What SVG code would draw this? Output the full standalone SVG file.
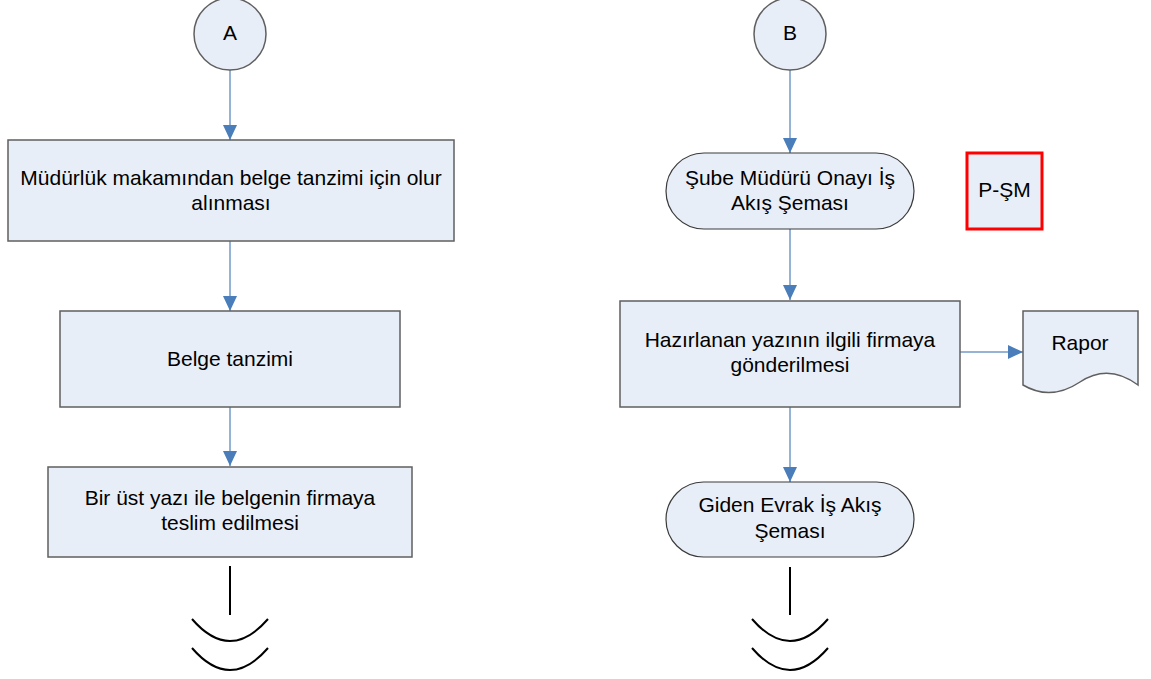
<svg xmlns="http://www.w3.org/2000/svg" width="1151" height="679" viewBox="0 0 1151 679">
<defs>
<marker id="ah" markerWidth="15" markerHeight="14" refX="15" refY="7" orient="auto" markerUnits="userSpaceOnUse">
<path d="M0,0 L15,7 L0,14 Z" fill="#4A7EBB"/>
</marker>
<style>
.shape{fill:#E8EEF7;stroke:#5F5F5F;stroke-width:1.5}
.term{fill:#E8EEF7;stroke:#3A3A3A;stroke-width:1.2}
.red{fill:#E8EEF7;stroke:#FF0000;stroke-width:3}
.t{font-family:"Liberation Sans",Arial,sans-serif;font-size:21px;fill:#000;text-anchor:middle}
.c{fill:none;stroke:#95B3D7;stroke-width:2}
.off{fill:none;stroke:#000;stroke-width:2}
</style>
</defs>
<rect width="1151" height="679" fill="#fff"/>
<g id="connectors">
<line class="c" x1="230" y1="70" x2="230" y2="140" marker-end="url(#ah)"/>
<line class="c" x1="230" y1="241" x2="230" y2="311" marker-end="url(#ah)"/>
<line class="c" x1="230" y1="407" x2="230" y2="466" marker-end="url(#ah)"/>
<line class="c" x1="790" y1="70" x2="790" y2="153" marker-end="url(#ah)"/>
<line class="c" x1="790" y1="229" x2="790" y2="300" marker-end="url(#ah)"/>
<line class="c" x1="790" y1="407" x2="790" y2="482" marker-end="url(#ah)"/>
<line class="c" x1="960" y1="352" x2="1023" y2="352" marker-end="url(#ah)"/>
</g>
<g id="nodeA">
<circle class="shape" cx="230" cy="34" r="36"/>
<text class="t" x="230" y="40">A</text>
</g>
<g id="nodeB">
<circle class="shape" cx="790" cy="34" r="36"/>
<text class="t" x="790" y="40">B</text>
</g>
<g id="node1">
<rect class="shape" x="8" y="140" width="446" height="101"/>
<text class="t" x="231" y="185">Müdürlük makamından belge tanzimi için olur</text>
<text class="t" x="231" y="210">alınması</text>
</g>
<g id="node2">
<rect class="shape" x="60" y="311" width="340" height="96"/>
<text class="t" x="230" y="366">Belge tanzimi</text>
</g>
<g id="node3">
<rect class="shape" x="48" y="467" width="364" height="90"/>
<text class="t" x="230" y="505">Bir üst yazı ile belgenin firmaya</text>
<text class="t" x="230" y="530">teslim edilmesi</text>
</g>
<g id="offpageA">
<line class="off" x1="230" y1="566" x2="230" y2="615"/>
<path class="off" d="M192,619 Q230,663 268,619"/>
<path class="off" d="M192,648 Q230,692 268,648"/>
</g>
<g id="node4">
<rect class="term" x="666" y="153" width="248" height="76" rx="38" ry="38"/>
<text class="t" x="790" y="185">Şube Müdürü Onayı İş</text>
<text class="t" x="790" y="210">Akış Şeması</text>
</g>
<g id="nodePSM">
<rect class="red" x="967" y="153" width="75" height="76"/>
<text class="t" x="1004.5" y="197">P-ŞM</text>
</g>
<g id="node5">
<rect class="shape" x="620" y="301" width="340" height="106"/>
<text class="t" x="790" y="347">Hazırlanan yazının ilgili firmaya</text>
<text class="t" x="790" y="372">gönderilmesi</text>
</g>
<g id="nodeRapor">
<path class="shape" d="M1023,311 H1138 V385 C1115,368 1095,372 1080,382 C1065,392 1045,398 1023,385 Z"/>
<text class="t" x="1080" y="350">Rapor</text>
</g>
<g id="node6">
<rect class="term" x="666" y="482" width="248" height="75" rx="37.5" ry="37.5"/>
<text class="t" x="790" y="512">Giden Evrak İş Akış</text>
<text class="t" x="790" y="538">Şeması</text>
</g>
<g id="offpageB">
<line class="off" x1="790" y1="567" x2="790" y2="615"/>
<path class="off" d="M752,619 Q790,663 828,619"/>
<path class="off" d="M752,648 Q790,692 828,648"/>
</g>
</svg>
